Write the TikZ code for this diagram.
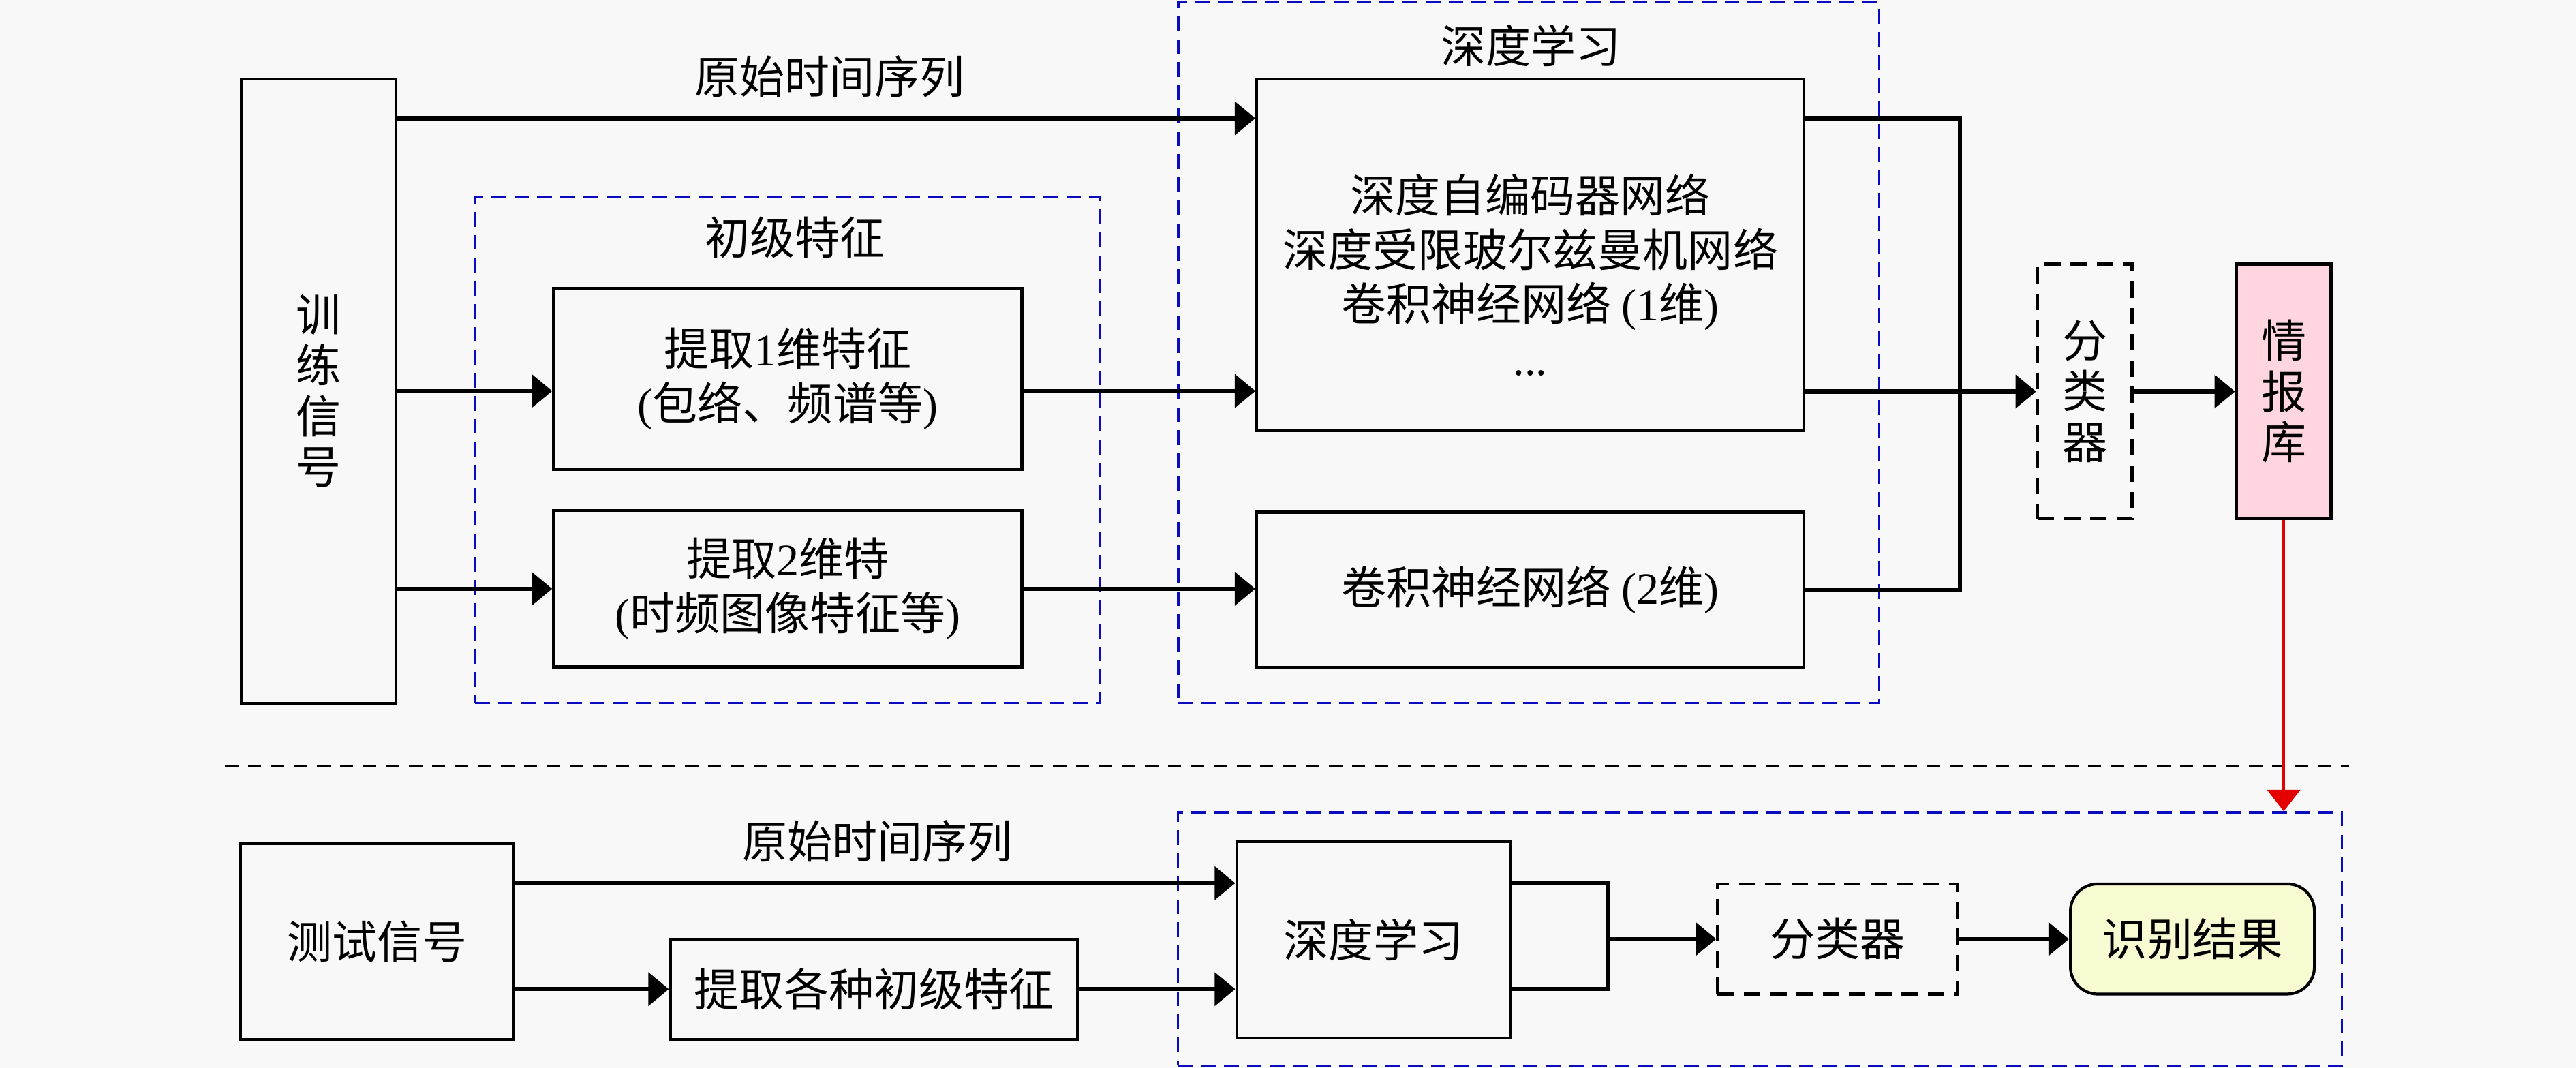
\documentclass[tikz,border=0pt]{standalone}
\usepackage{fontspec}
\setmainfont{Liberation Serif}
\newfontfamily\cjkfont{Noto Sans CJK SC}
\usepackage{tikz}
\usetikzlibrary{positioning,arrows.meta}
\definecolor{pagebg}{RGB}{248,248,248}
\definecolor{groupblue}{RGB}{10,10,190}
\definecolor{librarypink}{RGB}{255,214,224}
\definecolor{resultyellow}{RGB}{248,250,210}
\colorlet{linkred}{red!90!black}
\newcommand{\latn}[1]{{\rmfamily #1}}

\begin{document}
\begin{tikzpicture}[every node/.style={font=\cjkfont\fontsize{15.6}{18.8}\selectfont, align=center, inner sep=0pt},
    block/.style={draw, line width=1pt},
    dblock/.style={draw, line width=1pt, dash pattern=on 0.2cm off 0.12cm},
    group/.style={draw=groupblue, line width=0.8pt, dash pattern=on 0.18cm off 0.1cm},
    vtext/.style={font=\cjkfont\fontsize{15.6}{17.6}\selectfont},
    arr/.style={-{Triangle[length=0.25cm,width=0.4cm]}, line width=1.5pt},
    link/.style={line width=1.5pt},
    sepline/.style={line width=0.7pt, dash pattern=on 0.16cm off 0.12cm}]
  \fill[pagebg] (0,0) rectangle (31.36,13);
  \useasboundingbox (0,0) rectangle (31.36,13);

  % training part
  \node[group, minimum width=7.61cm, minimum height=6.16cm] (primgrp) at (9.586,7.52) {};
  \node[group, minimum width=8.53cm, minimum height=8.53cm] (deepgrp) at (18.61,8.706) {};
  \node (primlbl) at (9.68,10.11) {初级特征};
  \node (deeplbl) at (18.64,12.444) {深度学习};
  \node[block, vtext, minimum width=1.88cm, minimum height=7.6cm] (train) at (3.88,8.24) {训\\练\\信\\号};
  \node (rawtop) at (10.10,12.07) {原始时间序列};
  \node[block, minimum width=5.7cm, minimum height=2.2cm] (feat1) at (9.59,8.388) {提取\latn{1}维特征\\\latn{(}包络、频谱等\latn{)}};
  \node[block, below=0.47cm of feat1, minimum width=5.7cm, minimum height=1.9cm] (feat2) {提取\latn{2}维特\\\latn{(}时频图像特征等\latn{)}};
  \node[block, minimum width=6.66cm, minimum height=4.28cm] (deepnet) at (18.63,9.90) {\rule{0pt}{0.96cm}深度自编码器网络\\深度受限玻尔兹曼机网络\\卷积神经网络 \latn{(1}维\latn{)}\\\latn{...}};
  \node[block, below=0.96cm of deepnet, minimum width=6.66cm, minimum height=1.89cm] (cnn2) {卷积神经网络 \latn{(2}维\latn{)}};
  \node[dblock, vtext, minimum width=1.15cm, minimum height=3.1cm] (cls1) at (25.38,8.234) {分\\类\\器};
  \node[block, vtext, fill=librarypink, right=1.236cm of cls1, minimum width=1.15cm, minimum height=3.1cm] (lib) {情\\报\\库};

  \coordinate (row1) at (0,11.56);
  \coordinate (row2) at (0,8.24);
  \coordinate (merge1) at (23.86,8.24);

  \draw[arr] (train.east |- row1) -- (deepnet.west |- row1);
  \draw[arr] (train.east |- row2) -- (feat1.west |- row2);
  \draw[arr] (feat1.east |- row2) -- (deepnet.west |- row2);
  \draw[arr] (train.east |- feat2.west) -- (feat2.west);
  \draw[arr] (feat2.east) -- (cnn2.west |- feat2.east);
  \draw[link] (deepnet.east |- row1) -| (merge1) |- (cnn2.east);
  \draw[arr] (deepnet.east |- cls1.west) -- (cls1.west);
  \draw[arr] (cls1.east) -- (lib.west);

  % separator
  \coordinate (sepl) at (2.74,3.68);
  \coordinate (sepr) at (28.6,3.68);
  \draw[sepline] (sepl) -- (sepr);

  % test part
  \node[group, minimum width=14.17cm, minimum height=3.08cm] (testgrp) at (21.425,1.571) {};
  \node[block, minimum width=3.32cm, minimum height=2.38cm] (test) at (4.59,1.54) {测试信号};
  \node (rawbot) at (10.68,2.76) {原始时间序列};
  \node[block, minimum width=4.96cm, minimum height=1.22cm] (featall) at (10.64,0.96) {提取各种初级特征};
  \node[block, minimum width=3.33cm, minimum height=2.39cm] (deep2) at (16.72,1.56) {深度学习};
  \node[dblock, minimum width=2.92cm, minimum height=1.34cm] (cls2) at (22.37,1.57) {分类器};
  \node[block, fill=resultyellow, rounded corners=0.33cm, right=1.34cm of cls2, minimum width=2.97cm, minimum height=1.34cm] (result) {识别结果};

  \coordinate (row4) at (0,2.25);
  \coordinate (merge2) at (19.58,1.57);

  \draw[arr] (test.east |- row4) -- (deep2.west |- row4);
  \draw[arr] (test.east |- featall.west) -- (featall.west);
  \draw[arr] (featall.east) -- (deep2.west |- featall.east);
  \draw[link] (deep2.east |- row4) -| (merge2) |- (deep2.east |- featall.east);
  \draw[arr] (merge2) -- (cls2.west);
  \draw[arr] (cls2.east) -- (result.west);

  \draw[linkred, line width=0.8pt, -{Triangle[length=0.26cm,width=0.4cm]}] (lib.south) -- (lib.south |- testgrp.north);
\end{tikzpicture}
\end{document}
